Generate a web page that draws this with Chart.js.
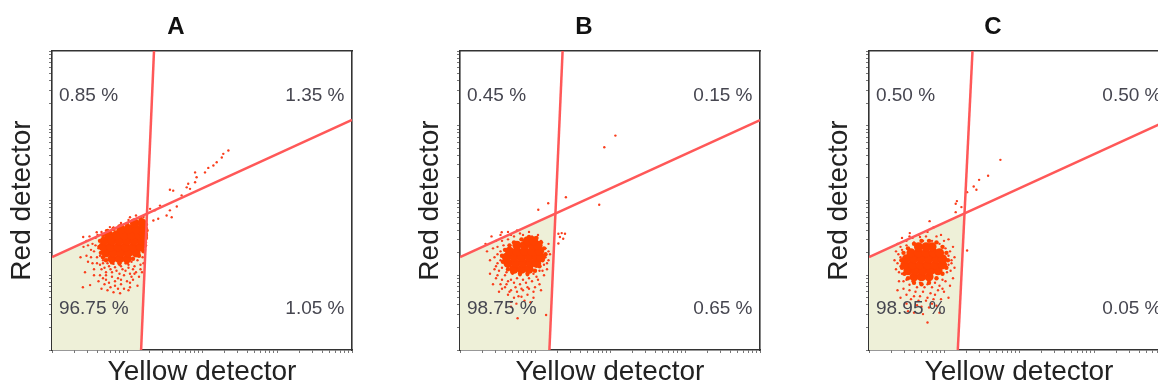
<!DOCTYPE html>
<html><head><meta charset="utf-8">
<script src="https://cdn.jsdelivr.net/npm/chart.js@4.4.1/dist/chart.umd.min.js"></script>
<style>
html,body{margin:0;padding:0;background:#fff;overflow:hidden;width:1158px;height:388px;position:relative;}
.panel{position:absolute;top:0;width:408px;height:388px;}
</style></head><body>
<div class="panel" style="left:0px"><canvas id="cA" width="408" height="388"></canvas></div>
<div class="panel" style="left:408px"><canvas id="cB" width="408" height="388"></canvas></div>
<div class="panel" style="left:817px"><canvas id="cC" width="408" height="388"></canvas></div>
<script>
// ---------- data ----------
const panelTitles = ['A', 'B', 'C'];
const xAxisTitle = 'Yellow detector';
const yAxisTitle = 'Red detector';

// quadrant percentages: [upper-left, upper-right, lower-left, lower-right]
const quadrantPctA = [0.85, 1.35, 96.75, 1.05];
const quadrantPctB = [0.45, 0.15, 98.75, 0.65];
const quadrantPctC = [0.50, 0.50, 98.95, 0.05];

// vertical gate: [x at bottom, x at top]; diagonal gate: [y at left, y at right]  (axis units 0-100)
const verticalGateA = [29.7, 34.0];
const verticalGateB = [29.8, 34.2];
const verticalGateC = [29.6, 34.5];
const diagonalGateA = [31.1, 77.0];
const diagonalGateB = [31.1, 76.9];
const diagonalGateC = [31.1, 77.0];

// dense core events
const coreA = [
 [20,30.5],[22.5,30.5],[25,30.5],
 [18,32.5],[20.5,32.5],[23,32.5],[25.5,32.5],[28,32.5],
 [17,34.5],[19.5,34.5],[22,34.5],[24.5,34.5],[27,34.5],[29.5,34.5],
 [17.5,36.5],[20,36.5],[22.5,36.5],[25,36.5],[27.5,36.5],[30,36.5],
 [19,38.5],[21.5,38.5],[24,38.5],[26.5,38.5],[29,38.5],[30.5,38.5],
 [23,40.5],[25.5,40.5],[28,40.5],[30.5,40.5],
 [27.5,42.5],[30,42.5]
];
const coreB = [
 [18,27],[20.5,27],[23,27],
 [16,29],[18.5,29],[21,29],[23.5,29],[25.5,29],
 [15.5,31],[18,31],[20.5,31],[23,31],[25.5,31],[27,31],
 [16.5,33],[19,33],[21.5,33],[24,33],[26.5,33],
 [19,35],[21.5,35],[24,35],[26,35],
 [22.5,36.5],[24.5,36.5]
];
const coreC = [
 [15,24.5],[17.5,24.5],[20,24.5],
 [13,26.5],[15.5,26.5],[18,26.5],[20.5,26.5],[23,26.5],
 [12,28.5],[14.5,28.5],[17,28.5],[19.5,28.5],[22,28.5],[24.5,28.5],
 [12.5,30.5],[15,30.5],[17.5,30.5],[20,30.5],[22.5,30.5],[24.5,30.5],
 [14,32.5],[16.5,32.5],[19,32.5],[21.5,32.5],[23.5,32.5],
 [16.5,34.5],[19,34.5],[21,34.5]
];

// medium-density events around the core
const ringA = [
 [18,30],[20,29.3],[22.5,29],[25,29.3],[27,30.5],[29,31.5],[30.5,33],[31,35],[31.3,37.5],[31.5,40],
 [31.3,42],[29.5,44],[27,43],[25,42],[22.5,41.3],[20.5,40.5],[18.5,39.8],[17,38.5],[16,36.5],[15.8,34.5],
 [16.3,32.5],[17,31]
];
const ringB = [
 [16,27],[17.5,26],[20,25.5],[22.5,25.5],[25,26.5],[26.5,28],[27.5,30],[28.5,32],[28,34],[27,36],
 [25.5,37.5],[23,37.8],[20.5,37],[18,36],[16.5,35],[15,33.5],[14,31.5],[14.3,29.5]
];
const ringC = [
 [13,24],[15,22.5],[17.5,22],[20,22.5],[22.5,24],[24.5,25.5],[25.8,27.5],[26.3,30],[25.8,32.5],[24.5,34.5],
 [22.5,36],[20,36.5],[17.5,36.5],[15,35.5],[13,34],[11.5,32.5],[10.8,30],[11,27.5],[11.8,25.5]
];

// scattered single events
const eventsA = [
 [15.5,34],[15.8,36.5],[16,31.5],[15.2,38.5],[17,30],[18.5,29],[20.5,28.8],[22.5,28.5],[24.5,29],[26.5,29.5],
 [28.5,30],[30.2,31],[31,33.5],[31.3,36],[31.5,39],[31.5,42],[30.5,44.5],[28,45],[25.5,43.5],[23,42.5],
 [20.5,41],[18,40],[16.5,39.5],[14,33],[13.5,35.5],[14.5,37.5],[12.5,38],[13,31],[15,29],[17.5,27.5],
 [19.5,27],[21.5,26.5],[23.5,27],[25.5,27.5],[27.5,28],[29.5,28.5],[16.5,27],[18,25],[20,24.5],[22,24],
 [24,25],[26,25.5],[28,26],[16,25],[14,27],[12,29.5],[19,22.5],[21,21.5],[23,22],[25,23],
 [27,23.5],[17.5,22],[20.5,19.3],[22.7,19],[24,20.5],[26,21],[15.5,23],[10.3,21],[12.7,21.7],[18.5,20],
 [11,26],[9.5,31],[10.5,34.5],[11.5,36.5],[29,24.5],[28.5,21.5],[10.4,37.8],[14.9,39.4],[19.3,41.1],[26,44.4],
 [17,29],[19,28],[21,27.7],[23,28],[25.5,28.5],[27,27],[29.5,27],[30.5,29],[18,26],[20,26],
 [22.5,25.5],[24.5,26.5],[26.5,24.5],[15,31],[14.5,35],[13,33.5],[12,35],[16,28.5],[13.5,29],[21,23],
 [23,23.5],[19.5,21],[17,24],[25.5,20],[27.5,25.5],[30,26],[11.5,31.5],[14,25],[16.5,20.5],[22,20.5],
 [18,23.5],[26,22.5],
 [32.7,47.2],[34.3,46.7],[35.4,43.9],[33.8,43.3],[36,48.3],[38.2,45],[39.3,46.7],[39.9,44.4],[41.6,48],[39.3,53.6],
 [40.4,53.3],[43.2,51.7],[44.9,54.4],[46,53.9],[45.4,55.6],[47.7,56.1],[47.7,59.4],[48.2,57.8],[51,59.4],[52.1,60.9],
 [53.8,61.7],[54.9,62.8],[56.6,64.4],[57.1,65.6],[58.8,66.7]
];
const eventsB = [
 [14,27.5],[13.5,30],[13.5,33],[14.5,35],[16,37],[18,38],[21,38.5],[24,38],[27,36.5],[28.5,34],
 [28.5,31],[28,28.5],[26.5,26.5],[24.5,25.5],[22.5,25],[20,25],[17.5,25.5],[15.5,26],[12,28],[11.5,31],
 [11,34],[12,36.5],[10,30],[9,33],[8.5,35.5],[10.5,38],[13.5,38.5],[16,39.5],[19,40],[12.5,25],
 [14,23.5],[16,23],[18,22.5],[20,22],[22,22.5],[24,23],[26,23.5],[28,25],[29,27],[29.5,30],
 [29.5,33],[15,21],[17,20],[19,19.5],[21,20],[23,20.5],[25,21],[16,18.5],[18,17.5],[20.5,17.8],
 [22.5,18.5],[13,19.5],[11,22],[10,25.5],[27,20],[24.5,17.5],[18.8,15.5],[17,16.1],[28.7,11.7],[19.2,10.6],
 [15,25],[13,26.5],[12.5,29],[12.5,32],[12.5,34.5],[14,36.5],[17,38.5],[20,39],[23,39.5],[26,38.5],
 [29.5,35.5],[30,32],[29,29],[27.5,26.5],[25.5,24.5],[23,24],[21,23.5],[19,24],[17,23.5],[15.5,22],
 [13.5,22],[12,24],[18.5,21],[20.5,20.5],[22.5,21],[24.5,19.5],[26.5,22],[16.5,19.5],[14,20.5],[11.5,27],
 [19.5,18],[21.5,16.5],[23.5,16],[17,14.5],
 [13.9,39.4],[26.1,46.9],[29.4,49.1],[35.3,51.1],[46.4,48.6],[48.1,67.8],[51.8,71.7],
 [32.8,38.9],[33.9,39.1],[35,38.9],[33.3,37.8],[34.4,37.2],[32.8,35.6]
];
const eventsC = [
 [11,25.5],[10.5,28],[10.5,31],[11,33.5],[12.5,35],[15,36],[18,36.5],[21,36.5],[23.5,35.5],[25.5,34],
 [26.5,31.5],[26.5,28.5],[26,26],[24.5,23.5],[22,22.5],[19.5,22],[17,22.5],[14.5,23],[12.5,23.5],[9,27],
 [8.5,30],[9,33],[9.5,35.5],[11,37.5],[13.5,38],[16.5,38.5],[19.5,39.5],[21.5,41],[24,38.5],[26.5,37],
 [28,34.5],[28.5,31],[28.5,27.5],[28,24],[27,21.5],[10,23],[11.5,20.5],[13.5,20],[15.5,19.5],[18,19.5],
 [20.5,19],[23,20],[25,19.5],[14,17],[16.5,16.5],[19,16.5],[21.5,17],[24,17],[17.5,14.5],[20,14.2],
 [22.5,14.8],[12.5,15.5],[19.5,9.2],[15,12.5],[26.5,17.5],[9.5,20],[27.5,29],
 [10,26],[9.5,29],[9.8,32],[10.5,34.5],[12.5,36.5],[14.5,37.5],[17,37.8],[19,38],[22.5,38],[25,36.5],
 [27,33],[27.5,30],[27.2,26.5],[25.5,23],[23.5,21.5],[21,21],[18.5,21],[16,21],[13.5,21.8],[11.5,23],
 [12.5,18.5],[15,18],[17,18],[19.5,17.5],[22,18.5],[24.5,20.5],[13,13],[16,15],[21,15.5],[18,12],
 [23.5,12.5],[10.5,17.5],
 [43.8,63.6],[39.7,58.3],[36.7,56.9],[34.9,54.7],[35.8,53.6],[32.7,52.8],[29.3,49.8],[28.9,48.9],[30.8,47.8],[28.9,46.1],
 [20.2,43.1],[13.6,39.1],[32.7,33.3]
];

// ---------- styling / helpers ----------
const EVENT_CORE = 'rgb(255,66,0)';
const EVENT_DOT = 'rgb(250,62,28)';
const GATE = 'rgb(255,88,88)';
const SHADE = 'rgb(238,240,216)';
const FRAME = '#333';

const toXY = arr => arr.map(p => ({x: p[0], y: p[1]}));

// log-style minor tick positions for the frame (4 decades over 0-100)
function logTicks(scale) {
  const t = [];
  for (let d = 0; d < 4; d++) for (let k = 1; k < 10; k++) t.push({value: 25 * (d + Math.log10(k))});
  t.push({value: 100});
  scale.ticks = t;
}

const quadLabels = {
  id: 'quadLabels',
  afterDatasetsDraw(chart, args, opts) {
    const {ctx} = chart; const xs = chart.scales.x, ys = chart.scales.y;
    ctx.save();
    ctx.font = opts.font; ctx.fillStyle = opts.color; ctx.textBaseline = 'middle';
    for (const it of opts.items) {
      ctx.textAlign = it.align;
      ctx.fillText(it.text, xs.getPixelForValue(it.x), ys.getPixelForValue(it.y));
    }
    ctx.restore();
  }
};

function makePanel(id, title, pct, vGate, dGate, core, ring, events) {
  const [vb, vt] = vGate, [dl, dr] = dGate;
  const a = (vt - vb) / 100, b = (dr - dl) / 100;
  const ix = (vb + a * dl) / (1 - a * b);
  const iy = dl + b * ix;
  const fmt = v => v.toFixed(2) + ' %';
  const LEFT = 2.3, RIGHT = 97.5, TOP = 85, BOT = 13.7;
  new Chart(document.getElementById(id), {
    type: 'scatter',
    data: {datasets: [
      {data: [{x:0,y:0},{x:0,y:dl},{x:ix,y:iy},{x:vb,y:0}], showLine: true, fill: 'shape',
       backgroundColor: SHADE, borderWidth: 0, pointRadius: 0, order: 5},
      {data: toXY(events), pointRadius: 1.2, pointBorderWidth: 0, backgroundColor: EVENT_DOT, order: 4},
      {data: toXY(ring), pointRadius: 2.2, pointBorderWidth: 0, backgroundColor: EVENT_CORE, order: 3},
      {data: toXY(core), pointRadius: 4.6, pointBorderWidth: 0, backgroundColor: EVENT_CORE, order: 2},
      {data: [{x:vb,y:0},{x:vt,y:100}], showLine: true, borderColor: GATE, borderWidth: 2.5, pointRadius: 0, order: 1},
      {data: [{x:0,y:dl},{x:100,y:dr}], showLine: true, borderColor: GATE, borderWidth: 2.5, pointRadius: 0, order: 1}
    ]},
    options: {
      responsive: false, animation: false, events: [],
      layout: {padding: {left: 0, right: 56, top: 0, bottom: 0}},
      scales: {
        x: {type: 'linear', min: 0, max: 100, position: 'bottom', afterBuildTicks: logTicks,
            ticks: {display: false},
            grid: {drawOnChartArea: false, drawTicks: true, tickLength: 3, color: '#777'},
            border: {display: true, color: FRAME, width: 1.6},
            title: {display: true, text: xAxisTitle, color: '#222',
                    font: {family: 'Liberation Sans, Arial, sans-serif', size: 28, lineHeight: 1.1},
                    padding: {top: 4.2, bottom: 0}}},
        y: {type: 'linear', min: 0, max: 100, position: 'left', afterBuildTicks: logTicks,
            ticks: {display: false},
            grid: {drawOnChartArea: false, drawTicks: true, tickLength: 3, color: '#777'},
            border: {display: true, color: FRAME, width: 1.6},
            title: {display: true, text: yAxisTitle, color: '#222',
                    font: {family: 'Liberation Sans, Arial, sans-serif', size: 28, lineHeight: 1.1},
                    padding: {top: 7.1, bottom: 11.1}}},
        x2: {type: 'linear', min: 0, max: 100, position: 'top', ticks: {display: false},
             grid: {display: false, drawTicks: false}, border: {display: true, color: FRAME, width: 1.6}},
        y2: {type: 'linear', min: 0, max: 100, position: 'right', ticks: {display: false},
             grid: {display: false, drawTicks: false}, border: {display: true, color: FRAME, width: 1.6}}
      },
      plugins: {
        legend: {display: false}, tooltip: {enabled: false},
        title: {display: true, text: title, color: '#111',
                font: {family: 'Liberation Sans, Arial, sans-serif', size: 24, weight: 'bold', lineHeight: 1.1},
                padding: {top: 14.4, bottom: 10.2}},
        quadLabels: {font: '19px "Liberation Sans", Arial, sans-serif', color: '#464650', items: [
          {text: fmt(pct[0]), x: LEFT, y: TOP, align: 'left'},
          {text: fmt(pct[1]), x: RIGHT, y: TOP, align: 'right'},
          {text: fmt(pct[2]), x: LEFT, y: BOT, align: 'left'},
          {text: fmt(pct[3]), x: RIGHT, y: BOT, align: 'right'}
        ]}
      }
    },
    plugins: [quadLabels]
  });
}

makePanel('cA', panelTitles[0], quadrantPctA, verticalGateA, diagonalGateA, coreA, ringA, eventsA);
makePanel('cB', panelTitles[1], quadrantPctB, verticalGateB, diagonalGateB, coreB, ringB, eventsB);
makePanel('cC', panelTitles[2], quadrantPctC, verticalGateC, diagonalGateC, coreC, ringC, eventsC);
</script>
</body></html>
